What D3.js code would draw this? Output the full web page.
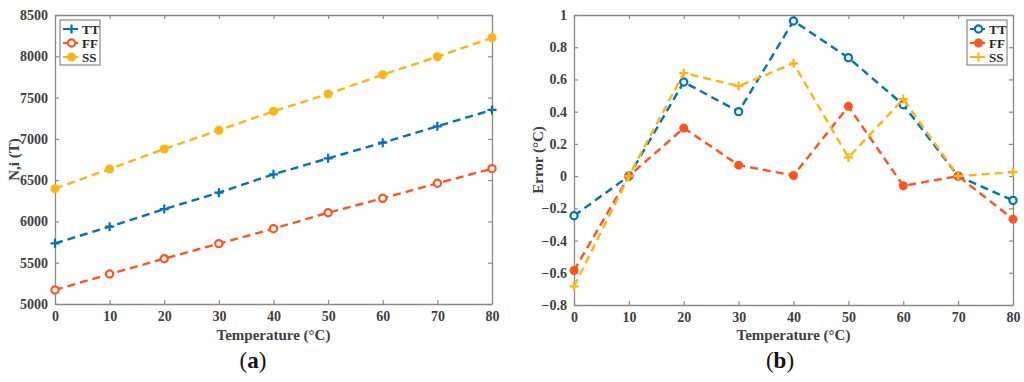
<!DOCTYPE html>
<html>
<head>
<meta charset="utf-8">
<script src="https://cdn.jsdelivr.net/npm/d3@7"></script>
<style>
  body { margin: 0; background: #fff; }
  text { font-family: "Liberation Serif", "Times New Roman", serif; }
</style>
</head>
<body>
<script>
// Temperatures (x values shared by both panels)
const temps = [0, 10, 20, 30, 40, 50, 60, 70, 80];

// Panel (a): N,i (T)
const nTT = [5735, 5936, 6150, 6348, 6571, 6764, 6954, 7152, 7350];
const nFF = [5170, 5363, 5549, 5731, 5912, 6106, 6280, 6462, 6639];
const nSS = [6397, 6635, 6877, 7104, 7334, 7543, 7777, 7995, 8225];

// Panel (b): Error (°C)
const eTT = [-0.246, 0, 0.584, 0.40, 0.963, 0.735, 0.443, 0, -0.151];
const eFF = [-0.586, 0, 0.298, 0.068, 0.004, 0.433, -0.06, 0, -0.267];
const eSS = [-0.685, 0, 0.64, 0.559, 0.70, 0.116, 0.478, 0, 0.025];

const xTicks = [0, 10, 20, 30, 40, 50, 60, 70, 80];
const yTicksA = [5000, 5500, 6000, 6500, 7000, 7500, 8000, 8500];
const yTicksB = [-0.8, -0.6, -0.4, -0.2, 0, 0.2, 0.4, 0.6, 0.8, 1];

const blue = "#0072BD", orange = "#FF5420", yellow = "#FDB515";
const axisColor = "#8a8a8a", labelColor = "#404040";
const serif = "Liberation Serif, Times New Roman, serif";

const svg = d3.select("body").append("svg")
  .attr("width", 1024).attr("height", 382);

function drawPanel(opt) {
  const g = svg.append("g");
  const x = d3.scaleLinear().domain([0, 80]).range([opt.left, opt.right]);
  const y = d3.scaleLinear().domain(opt.yDomain).range([opt.bottom, opt.top]);

  // box with inward ticks on all sides
  const axes = [
    [d3.axisBottom(x).tickValues(xTicks).tickSizeInner(-4).tickSizeOuter(0).tickPadding(7), `translate(0,${opt.bottom})`],
    [d3.axisTop(x).tickValues(xTicks).tickSizeInner(-4).tickSizeOuter(0).tickFormat(""), `translate(0,${opt.top})`],
    [d3.axisLeft(y).tickValues(opt.yTicks).tickSizeInner(-4).tickSizeOuter(0).tickPadding(7).tickFormat(opt.fmt), `translate(${opt.left},0)`],
    [d3.axisRight(y).tickValues(opt.yTicks).tickSizeInner(-4).tickSizeOuter(0).tickFormat(""), `translate(${opt.right},0)`]
  ];
  axes.forEach(([ax, tr]) => {
    const a = g.append("g").attr("transform", tr).call(ax)
      .attr("font-family", serif)
      .attr("font-size", 14)
      .attr("font-weight", "bold");
    a.select(".domain").attr("stroke", axisColor).attr("stroke-width", 1.3);
    a.selectAll(".tick line").attr("stroke", axisColor).attr("stroke-width", 1.2);
    a.selectAll(".tick text").attr("fill", labelColor);
  });

  // series
  const line = d3.line().x((d, i) => x(temps[i])).y(d => y(d));
  opt.series.forEach(s => {
    g.append("path").datum(s.values)
      .attr("d", line)
      .attr("fill", "none")
      .attr("stroke", s.color)
      .attr("stroke-width", 2.4)
      .attr("stroke-dasharray", "8,5");
    s.values.forEach((v, i) => drawMarker(g, x(temps[i]), y(v), s.marker, s.color));
  });

  // axis titles
  g.append("text")
    .attr("x", (opt.left + opt.right) / 2).attr("y", 340)
    .attr("text-anchor", "middle")
    .attr("fill", labelColor)
    .style("font-weight", "bold").style("font-size", "15px")
    .text("Temperature (°C)");
  g.append("text")
    .attr("transform", `translate(${opt.yLabelX},${(opt.top + opt.bottom) / 2}) rotate(-90)`)
    .attr("text-anchor", "middle")
    .attr("fill", labelColor)
    .style("font-weight", "bold").style("font-size", "15px")
    .text(opt.yLabel);

  // legend
  const lg = g.append("g").attr("transform", `translate(${opt.legendX},20)`);
  lg.append("rect").attr("width", 40).attr("height", 45)
    .attr("fill", "#fff").attr("stroke", axisColor).attr("stroke-width", 1.2);
  opt.series.forEach((s, i) => {
    const yy = 9 + i * 14;
    lg.append("line").attr("x1", 3).attr("x2", 20).attr("y1", yy).attr("y2", yy)
      .attr("stroke", s.color).attr("stroke-width", 2.2).attr("stroke-dasharray", "6,3");
    drawMarker(lg, 11.5, yy, s.marker, s.color);
    lg.append("text").attr("x", 22).attr("y", yy + 4.5)
      .attr("fill", "#262626")
      .style("font-weight", "bold").style("font-size", "13px")
      .text(s.name);
  });

  // panel caption
  const cap = svg.append("text")
    .attr("x", opt.capX).attr("y", 368)
    .attr("text-anchor", "middle")
    .attr("fill", "#111")
    .style("font-size", "23px");
  cap.append("tspan").text("(");
  cap.append("tspan").style("font-weight", "bold").text(opt.caption);
  cap.append("tspan").text(")");
}

function drawMarker(g, cx, cy, type, color) {
  if (type === "plus") {
    g.append("path")
      .attr("d", `M${cx - 4.5},${cy}H${cx + 4.5}M${cx},${cy - 4.5}V${cy + 4.5}`)
      .attr("stroke", color).attr("stroke-width", 2.2).attr("fill", "none");
  } else if (type === "open") {
    g.append("circle").attr("cx", cx).attr("cy", cy).attr("r", 3.6)
      .attr("fill", "#fff").attr("stroke", color).attr("stroke-width", 2.2);
  } else {
    g.append("circle").attr("cx", cx).attr("cy", cy).attr("r", 4.5)
      .attr("fill", color);
  }
}

drawPanel({
  left: 55, right: 492, top: 15, bottom: 304,
  yDomain: [5000, 8500], yTicks: yTicksA, fmt: d3.format("d"),
  yLabel: "N,i (T)", yLabelX: 19,
  legendX: 60, capX: 253, caption: "a",
  series: [
    { name: "TT", values: nTT, color: blue, marker: "plus" },
    { name: "FF", values: nFF, color: orange, marker: "open" },
    { name: "SS", values: nSS, color: yellow, marker: "filled" }
  ]
});

drawPanel({
  left: 574, right: 1013, top: 15, bottom: 305,
  yDomain: [-0.8, 1], yTicks: yTicksB, fmt: d => d3.format("")(+d.toFixed(1)),
  yLabel: "Error (°C)", yLabelX: 543,
  legendX: 967, capX: 780, caption: "b",
  series: [
    { name: "TT", values: eTT, color: blue, marker: "open" },
    { name: "FF", values: eFF, color: orange, marker: "filled" },
    { name: "SS", values: eSS, color: yellow, marker: "plus" }
  ]
});
</script>
</body>
</html>
